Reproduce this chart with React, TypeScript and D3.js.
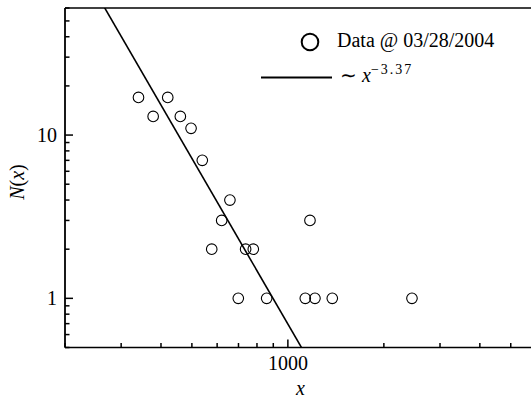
import React from 'react'
import { scaleLog, line } from 'd3'

const xValues = [340, 378, 420, 460, 497, 539, 577, 620, 658, 699, 737, 779, 858, 1134, 1173, 1216, 1378, 2450]
const nValues = [17, 13, 17, 13, 11, 7, 2, 3, 4, 1, 2, 2, 1, 1, 3, 1, 1, 1]

// power law fit N = A * x^k
const fitExponent = -3.37
const fitAmplitude = 8.97e9

const xDomain = [200, 6000]
const yDomain = [0.5, 60]
const xTickLabels = ['1000']
const yTickLabels = ['1', '10']
const legendLabel = 'Data @ 03/28/2004'

const W = 531
const H = 400
const left = 65
const right = 536
const top = 8
const bottom = 347.5
const font = '"Liberation Serif", "Times New Roman", serif'

const App = () => {
  const x = scaleLog().domain(xDomain).range([left, right])
  const y = scaleLog().domain(yDomain).range([bottom, top])

  const isMajor = (v: number) => Math.abs(Math.log10(v) - Math.round(Math.log10(v))) < 1e-9

  const fitPts = xDomain.map(v => [v, fitAmplitude * Math.pow(v, fitExponent)])
  const fitPath = line<number[]>().x(d => x(d[0])).y(d => y(d[1]))(fitPts)

  const xTicks = x.ticks().filter(v => v >= xDomain[0] && v <= xDomain[1])
  const yTicks = y.ticks().filter(v => v >= yDomain[0] && v <= yDomain[1])

  return (
    <svg width={W} height={H} style={{ position: 'absolute', left: 0, top: 0, background: '#fff' }} fontFamily={font}>
      <defs>
        <clipPath id="plot">
          <rect x={left} y={top} width={right - left} height={bottom - top} />
        </clipPath>
      </defs>

      {/* frame */}
      <line x1={left} x2={right} y1={top} y2={top} stroke="#000" strokeWidth={1.6} />
      <line x1={left} x2={right} y1={bottom} y2={bottom} stroke="#000" strokeWidth={1.6} />
      <line x1={left} x2={left} y1={top} y2={bottom} stroke="#000" strokeWidth={1.8} />
      <line x1={right} x2={right} y1={top} y2={bottom} stroke="#000" strokeWidth={1.6} />

      {xTicks.map((v, i) => (
        <line key={'xt' + i} x1={x(v)} x2={x(v)} y1={bottom} y2={bottom - (isMajor(v) ? 8 : 4.5)} stroke="#000" strokeWidth={1.5} />
      ))}
      {yTicks.map((v, i) => (
        <line key={'yt' + i} x1={left} x2={left + (isMajor(v) ? 8 : 4.5)} y1={y(v)} y2={y(v)} stroke="#000" strokeWidth={1.5} />
      ))}

      {xTickLabels.map(t => (
        <text key={t} x={x(+t)} y={bottom + 22} textAnchor="middle" fontSize={20}>{t}</text>
      ))}
      {yTickLabels.map(t => (
        <text key={t} x={left - 8} y={y(+t)} dy="0.35em" textAnchor="end" fontSize={20}>{t}</text>
      ))}

      <text x={(left + right) / 2} y={395} textAnchor="middle" fontSize={20} fontStyle="italic">x</text>
      <text transform={`translate(24, 182) rotate(-90)`} textAnchor="middle" fontSize={20}>
        <tspan fontStyle="italic">N</tspan>
        <tspan>(</tspan>
        <tspan fontStyle="italic">x</tspan>
        <tspan>)</tspan>
      </text>

      <g clipPath="url(#plot)">
        <path d={fitPath || ''} fill="none" stroke="#000" strokeWidth={1.6} />
        {xValues.map((v, i) => (
          <circle key={i} cx={x(v)} cy={y(nValues[i])} r={5.3} fill="none" stroke="#000" strokeWidth={1.1} />
        ))}
      </g>

      {/* legend */}
      <circle cx={310} cy={42} r={8.3} fill="none" stroke="#000" strokeWidth={2} />
      <text x={337} y={47} fontSize={20}>{legendLabel}</text>
      <line x1={261} x2={332} y1={77.5} y2={77.5} stroke="#000" strokeWidth={2} />
      <text x={340} y={82} fontSize={20}>
        <tspan>∼ </tspan>
        <tspan fontStyle="italic">x</tspan>
        <tspan fontSize={14} dy={-8} letterSpacing={2}>{'\u2212' + Math.abs(fitExponent)}</tspan>
      </text>
    </svg>
  )
}

export default App
